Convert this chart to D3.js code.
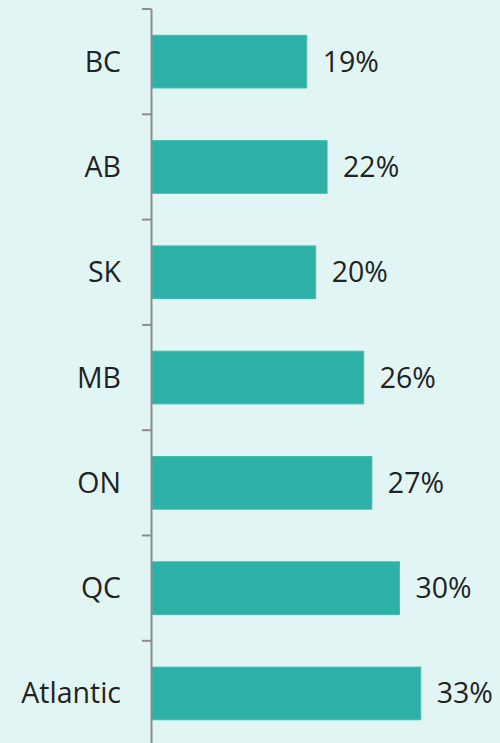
<!DOCTYPE html>
<html><head><meta charset="utf-8">
<script src="https://cdn.jsdelivr.net/npm/d3@7"></script>
<style>html,body{margin:0;padding:0;background:#e1f6f4;}svg{display:block;}</style>
</head><body>
<svg id="chart" width="500" height="743"></svg>
<script>
const categories = ["BC","AB","SK","MB","ON","QC","Atlantic"];
const values = [19,21.5,20.1,26,27,30.4,33];
const valueLabels = ["19%","22%","20%","26%","27%","30%","33%"];

const svg = d3.select("#chart");
svg.append("rect").attr("width",500).attr("height",743).attr("fill","#e1f6f4");

const x0 = 152;
const x = d3.scaleLinear().domain([0,33]).range([x0, 420.7]);
const y = d3.scaleBand().domain(categories).range([9, 9+105.3*7]).paddingInner(0.5).paddingOuter(0.25);

// bars
svg.selectAll("rect.bar").data(categories).enter().append("rect")
  .attr("class","bar")
  .attr("x", x(0))
  .attr("y", d=>y(d))
  .attr("width", (d,i)=>x(values[i])-x(0))
  .attr("height", y.bandwidth())
  .attr("fill","#2db0a5")
  .attr("stroke","#3dbdb1").attr("stroke-width",1);

// axis
const yTicks = d3.scaleBand().domain(categories).range([9, 9+105.3*7]);
const axisG = svg.append("g");
axisG.append("line").attr("x1",x0-0.5).attr("x2",x0-0.5).attr("y1",9).attr("y2",743)
  .attr("stroke","#8c8c8c").attr("stroke-width",2);
axisG.selectAll("line.tick").data(categories).enter().append("line")
  .attr("class","tick")
  .attr("x1",x0-10).attr("x2",x0-0.5)
  .attr("y1",d=>yTicks(d)).attr("y2",d=>yTicks(d))
  .attr("stroke","#8c8c8c").attr("stroke-width",2);

const fs = 28.5;
// category labels
svg.selectAll("text.cat").data(categories).enter().append("text")
  .attr("class","cat")
  .attr("x",121)
  .attr("y",d=>y(d)+y.bandwidth()/2)
  .attr("dy","0.35em")
  .attr("text-anchor","end")
  .attr("font-family","'Open Sans', sans-serif")
  .attr("font-size",fs)
  .attr("fill","#222")
  .text(d=>d);

// value labels
svg.selectAll("text.val").data(categories).enter().append("text")
  .attr("class","val")
  .attr("x",(d,i)=>x(values[i])+16)
  .attr("y",d=>y(d)+y.bandwidth()/2)
  .attr("dy","0.35em")
  .attr("font-family","'Open Sans', sans-serif")
  .attr("font-size",fs)
  .attr("fill","#222")
  .text((d,i)=>valueLabels[i]);
</script>
</body></html>
